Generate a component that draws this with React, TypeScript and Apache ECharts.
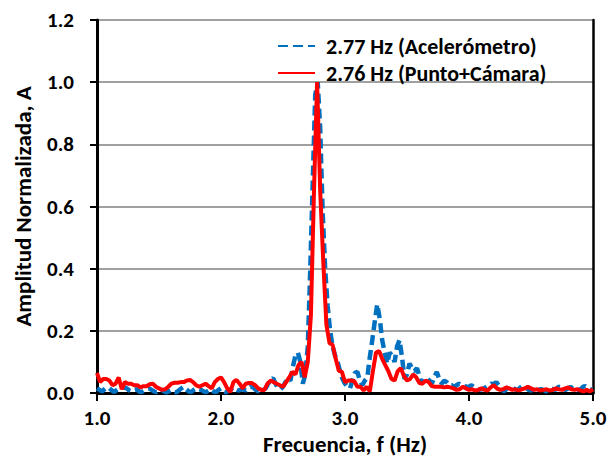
import React, { useEffect, useRef } from "react";
import * as echarts from "echarts";

// Frequency grid (Hz): FFT bins start at 1.0 Hz
const blueStart = 1.0;
const blueStep = 0.02;
const redStart = 1.0;
const redStep = 0.025;

// Accelerometer spectrum (normalized amplitude), bins every 0.02 Hz from 1.0 Hz
const acelerometro = [
  0.015, 0.01, 0.005, 0.012, 0.018, 0.015, 0.008, 0.003, 0.01, 0.015,
  0.02, 0.018, 0.015, 0.008, 0.005, 0.01, 0.012, 0.005, 0.003, 0.008,
  0.012, 0.015, 0.01, 0.005, 0.003, 0.008, 0.01, 0.005, 0.002, 0.006,
  0.01, 0.004, 0.002, 0.008, 0.015, 0.02, 0.012, 0.005, 0.003, 0.01,
  0.015, 0.012, 0.01, 0.005, 0.003, 0.008, 0.012, 0.005, 0.003, 0.01,
  0.015, 0.005, 0.002, 0.008, 0.012, 0.018, 0.012, 0.008, 0.01, 0.012,
  0.008, 0.015, 0.02, 0.018, 0.01, 0.006, 0.01, 0.01, 0.015, 0.03,
  0.042, 0.048, 0.03, 0.015, 0.012, 0.02, 0.035, 0.045, 0.04, 0.085,
  0.12, 0.13, 0.1, 0.03, 0.06, 0.15, 0.4, 0.68, 0.96, 1.0,
  0.85, 0.58, 0.4, 0.28, 0.2, 0.15, 0.12, 0.1, 0.07, 0.045,
  0.03, 0.02, 0.015, 0.04, 0.065, 0.068, 0.04, 0.025, 0.04, 0.05,
  0.115, 0.17, 0.23, 0.285, 0.24, 0.17, 0.13, 0.095, 0.13, 0.12,
  0.1, 0.15, 0.17, 0.115, 0.045, 0.06, 0.095, 0.08, 0.07, 0.08,
  0.055, 0.03, 0.04, 0.05, 0.04, 0.03, 0.05, 0.068, 0.045, 0.03,
  0.04, 0.035, 0.025, 0.025, 0.02, 0.025, 0.03, 0.025, 0.022, 0.02,
  0.02, 0.025, 0.018, 0.012, 0.01, 0.012, 0.015, 0.02, 0.025, 0.03,
  0.028, 0.035, 0.025, 0.015, 0.005, 0.012, 0.02, 0.02, 0.015, 0.01,
  0.012, 0.02, 0.025, 0.018, 0.01, 0.008, 0.012, 0.015, 0.01, 0.012,
  0.01, 0.005, 0.008, 0.015, 0.012, 0.01, 0.02, 0.018, 0.012, 0.01,
  0.015, 0.02, 0.012, 0.008, 0.01, 0.012, 0.02, 0.022, 0.015, 0.01,
  0.012,
];

// Point + camera spectrum (normalized amplitude), bins every 0.025 Hz from 1.0 Hz
const puntoCamara = [
  0.065, 0.035, 0.045, 0.045, 0.04, 0.025, 0.03, 0.05, 0.012, 0.035,
  0.03, 0.03, 0.025, 0.025, 0.018, 0.022, 0.022, 0.028, 0.03, 0.02,
  0.015, 0.01, 0.012, 0.02, 0.03, 0.033, 0.033, 0.035, 0.035, 0.04,
  0.042, 0.035, 0.025, 0.02, 0.025, 0.03, 0.022, 0.015, 0.035, 0.045,
  0.05, 0.035, 0.015, 0.003, 0.035, 0.042, 0.03, 0.015, 0.03, 0.032,
  0.032, 0.025, 0.015, 0.01, 0.01, 0.03, 0.04, 0.035, 0.03, 0.025,
  0.02, 0.035, 0.05, 0.068, 0.06, 0.09, 0.1, 0.05, 0.1, 0.25,
  0.65, 1.0, 0.65, 0.42, 0.22, 0.16, 0.155, 0.11, 0.072, 0.068,
  0.035, 0.04, 0.04, 0.038, 0.02, 0.02, 0.008, 0.02, 0.005, 0.07,
  0.13, 0.135, 0.11, 0.09, 0.07, 0.045, 0.04, 0.07, 0.08, 0.055,
  0.04, 0.045, 0.06, 0.05, 0.032, 0.03, 0.04, 0.035, 0.022, 0.02,
  0.02, 0.02, 0.018, 0.02, 0.018, 0.015, 0.01, 0.012, 0.02, 0.015,
  0.01, 0.012, 0.008, 0.01, 0.015, 0.01, 0.008, 0.018, 0.025, 0.015,
  0.01, 0.012, 0.018, 0.015, 0.01, 0.012, 0.008, 0.012, 0.015, 0.02,
  0.015, 0.01, 0.012, 0.008, 0.01, 0.012, 0.008, 0.01, 0.015, 0.012,
  0.01, 0.015, 0.018, 0.012, 0.01, 0.012, 0.008, 0.005, 0.01, 0.005,
  0.012,
];

const seriesNames = ["2.77 Hz (Acelerómetro)", "2.76 Hz (Punto+Cámara)"];
const xTicks = [1.0, 2.0, 3.0, 4.0, 5.0];
const yTicks = [0.0, 0.2, 0.4, 0.6, 0.8, 1.0, 1.2];
const xTitle = "Frecuencia, f (Hz)";
const yTitle = "Amplitud Normalizada, A";

const FONT = "Carlito, Lato, sans-serif";

export default function App() {
  const ref = useRef<HTMLDivElement>(null);
  useEffect(() => {
    if (!ref.current) return;
    const chart = echarts.init(ref.current, undefined, { renderer: "svg" });
    const blueData = acelerometro.map((v, i) => [+(blueStart + i * blueStep).toFixed(3), v]);
    const redData = puntoCamara.map((v, i) => [+(redStart + i * redStep).toFixed(3), v]);
    const tickStyle = { color: "#000", fontSize: 21, fontWeight: "bold" as const, fontFamily: FONT };
    const titleStyle = { color: "#000", fontSize: 23, fontWeight: "bold" as const, fontFamily: FONT };
    chart.setOption({
      animation: false,
      backgroundColor: "#fff",
      grid: {
        left: 97,
        right: 18,
        top: 20,
        bottom: 67,
        containLabel: false,
        outerBoundsMode: "none",
      },
      legend: {
        orient: "vertical",
        left: 272,
        top: 30,
        itemWidth: 37,
        itemHeight: 14,
        itemGap: 5,
        data: seriesNames,
        itemStyle: { opacity: 0 },
        textStyle: { ...titleStyle, fontSize: 22, lineHeight: 22, padding: [0, 0, 0, 6] },
      },
      xAxis: [
        {
          type: "value",
          min: xTicks[0],
          max: xTicks[xTicks.length - 1],
          interval: 1,
          name: xTitle,
          nameLocation: "middle",
          nameGap: 39,
          nameMoveOverlap: false,
          nameTextStyle: titleStyle,
          axisLine: { lineStyle: { color: "#000", width: 3 } },
          axisTick: { show: true, length: 8, lineStyle: { color: "#000", width: 2 } },
          axisLabel: { ...tickStyle, margin: 14, formatter: (v: number) => v.toFixed(1) },
          splitLine: { show: false },
        },
        {
          type: "value",
          position: "top",
          min: xTicks[0],
          max: xTicks[xTicks.length - 1],
          axisLine: { show: true, lineStyle: { color: "#000", width: 2.5 } },
          axisTick: { show: false },
          axisLabel: { show: false },
          splitLine: { show: false },
        },
      ],
      yAxis: [
        {
          type: "value",
          min: yTicks[0],
          max: yTicks[yTicks.length - 1],
          interval: 0.2,
          name: yTitle,
          nameLocation: "middle",
          nameGap: 63,
          nameMoveOverlap: false,
          nameTextStyle: titleStyle,
          axisLine: { show: true, lineStyle: { color: "#000", width: 3 } },
          axisTick: { show: true, length: 7, lineStyle: { color: "#000", width: 2 } },
          axisLabel: { ...tickStyle, margin: 23, formatter: (v: number) => v.toFixed(1) },
          splitLine: { show: true, lineStyle: { color: "#A0A0A0", width: 2 } },
        },
        {
          type: "value",
          position: "right",
          min: yTicks[0],
          max: yTicks[yTicks.length - 1],
          axisLine: { show: true, lineStyle: { color: "#000", width: 2.5 } },
          axisTick: { show: false },
          axisLabel: { show: false },
          splitLine: { show: false },
        },
      ],
      series: [
        {
          name: seriesNames[0],
          type: "line",
          data: blueData,
          showSymbol: false,
          symbol: "none",
          lineStyle: { color: "#0070C0", width: 4.5, type: [10, 5], cap: "butt" },
          itemStyle: { color: "#0070C0" },
          z: 3,
        },
        {
          name: seriesNames[1],
          type: "line",
          data: redData,
          showSymbol: false,
          symbol: "none",
          lineStyle: { color: "#FF0000", width: 4 },
          itemStyle: { color: "#FF0000" },
          z: 4,
        },
      ],
    });
    return () => chart.dispose();
  }, []);
  return <div ref={ref} style={{ width: 611, height: 460, position: "absolute", left: 0, top: 0 }} />;
}
